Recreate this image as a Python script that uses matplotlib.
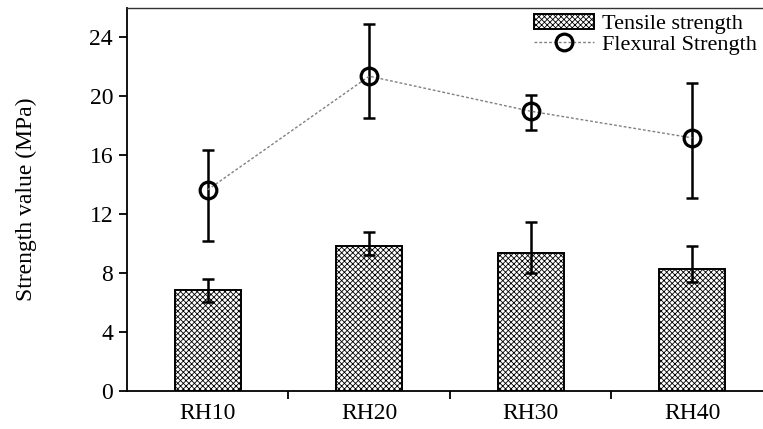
import numpy as np
import matplotlib
matplotlib.use('Agg')
import matplotlib.pyplot as plt

plt.rcParams['font.family'] = ['Liberation Serif', 'DejaVu Serif']
plt.rcParams['hatch.linewidth'] = 0.6

categories = ['RH10', 'RH20', 'RH30', 'RH40']
tensile = [6.87, 9.81, 9.36, 8.27]
tensile_err_low = [0.85, 0.6, 1.36, 0.86]
tensile_err_high = [0.75, 0.95, 2.08, 1.6]
flexural = [13.66, 21.37, 18.99, 17.18]
flexural_err_low = [3.46, 2.86, 1.25, 4.08]
flexural_err_high = [2.72, 3.56, 1.11, 3.74]

fig = plt.figure(figsize=(7.63, 4.29), dpi=100)
ax = fig.add_axes([0.1664, 0.0886, 0.8467, 0.8928])

x = np.arange(len(categories))
bars = ax.bar(x, tensile, width=0.41, color='white', edgecolor='black', linewidth=1.4,
              hatch='xxxxxx', label='Tensile strength', zorder=2)
ax.errorbar(x, tensile, yerr=[tensile_err_low, tensile_err_high], fmt='none',
            ecolor='black', elinewidth=1.8, capsize=4.5, capthick=1.8, zorder=3)

ax.errorbar(x, flexural, yerr=[flexural_err_low, flexural_err_high], fmt='none',
            ecolor='black', elinewidth=1.8, capsize=4.5, capthick=1.8, zorder=3)
line, = ax.plot(x, flexural, linestyle=(0, (2, 1.5)), color='#808080', linewidth=1.0,
                marker='o', markersize=12, markerfacecolor='none', markeredgecolor='black',
                markeredgewidth=2.3, label='Flexural Strength', zorder=4)

ax.set_xlim(-0.5, 3.5)
ax.set_ylim(0, 26)
ax.set_yticks(np.arange(0, 25, 4))
ax.set_xticks([0.5, 1.5, 2.5])
ax.set_xticklabels([])
ax.set_xticks(x, minor=True)
ax.set_xticklabels(categories, minor=True)
ax.tick_params(axis='x', which='minor', length=0, pad=9, labelsize=17)
ax.tick_params(axis='x', which='major', direction='out', length=6, width=1.3)
ax.tick_params(axis='y', direction='out', length=6, width=1.3, labelsize=17, pad=4)

ax.spines['right'].set_visible(False)
ax.spines['left'].set_linewidth(1.3)
ax.spines['bottom'].set_linewidth(1.3)
ax.spines['top'].set_linewidth(1.0)
ax.spines['top'].set_color('#333333')

ax.set_ylabel('Strength value (MPa)', fontsize=17, labelpad=38)

leg = ax.legend([bars, line], ['Tensile strength', 'Flexural Strength'],
                loc='upper right', bbox_to_anchor=(0.995, 1.02), frameon=False,
                fontsize=16, handlelength=2.7, handletextpad=0.35,
                labelspacing=0.0, borderaxespad=0.2)

fig.savefig('out.png', dpi=100)
